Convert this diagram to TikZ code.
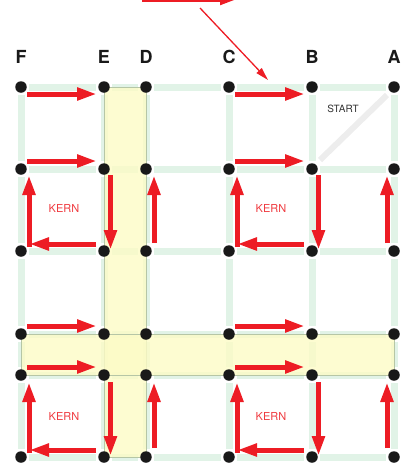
\documentclass[tikz,border=0pt]{standalone}
\usepackage{fontspec}
\setmainfont{TeX Gyre Heros}
\usetikzlibrary{arrows.meta}
\definecolor{arrred}{HTML}{ED1C24}
\definecolor{kernred}{HTML}{EF3B40}
\definecolor{gridgreen}{HTML}{E1F3E7}
\definecolor{hlyellow}{HTML}{FCFBC6}
\definecolor{hlborder}{HTML}{B6C6A6}
\definecolor{bandgray}{HTML}{EDEDED}
\begin{document}
\begin{tikzpicture}[x=1pt,y=-1pt,
  gridline/.style={draw=gridgreen, line width=7pt, shorten >=8pt, shorten <=8pt},
  dot/.style={circle, fill=black!90, inner sep=0pt, minimum size=11.5pt},
  redarrow/.style={draw=arrred, line width=5pt, -{Triangle[length=20pt,width=12pt]}},
  strip/.style={fill=hlyellow, fill opacity=0.8, draw=hlborder, line width=0.8pt},
  collabel/.style={font=\bfseries\fontsize{18}{18}\selectfont, text=black!90},
  kern/.style={font=\fontsize{11}{11}\selectfont, text=kernred},
  startlbl/.style={font=\fontsize{10}{10}\selectfont, text=black!80}]
\useasboundingbox (0,0) rectangle (409,464);
% grid coordinates
\foreach \c/\x in {F/21,E/104,D/146,C/229,B/312,A/394}
  \foreach \r/\y in {1/87,2/169,3/251,4/334,5/375,6/457}
    \coordinate (\c\r) at (\x,\y);
% green grid segments
\foreach \r in {1,...,6}
  \foreach \a/\b in {F/E,E/D,D/C,C/B,B/A}
    \draw[gridline] (\a\r) -- (\b\r);
\foreach \c in {F,E,D,C,B,A}
  \foreach \a/\b in {1/2,2/3,3/4,4/5,5/6}
    \draw[gridline] (\c\a) -- (\c\b);
% start band
\coordinate (bandA) at (387,95);
\coordinate (bandB) at (320,160);
\draw[draw=bandgray, line width=6pt] (bandA) -- (bandB);
\node[startlbl] (start) at (343,109) {START};
% highlight strips
\path[strip] (E1) rectangle (D6);
\path[strip] (F4) rectangle (A5);
% dots
\foreach \c in {F,E,D,C,B,A}
  \foreach \r in {1,...,6}
    \node[dot] (d\c\r) at (\c\r) {};
% column labels
\foreach \c in {F,E,D,C,B,A}
  \node[collabel] (l\c) at ([yshift=30pt]\c1) {\c};
% horizontal arrows
\foreach \l/\rr in {F/E,C/B}{
  \draw[redarrow] ([shift={(6,7)}]d\l1.center) -- ([shift={(-7,7)}]d\rr1.center);
  \draw[redarrow] ([shift={(6,-8)}]d\l2.center) -- ([shift={(-7,-8)}]d\rr2.center);
  \draw[redarrow] ([shift={(6,-8)}]d\l4.center) -- ([shift={(-7,-8)}]d\rr4.center);
  \draw[redarrow] ([shift={(6,-8)}]d\l5.center) -- ([shift={(-7,-8)}]d\rr5.center);
  % L shapes
  \draw[redarrow] ([shift={(-8,-7)}]d\rr3.center) -- ([shift={(8,-7)}]d\l3.center);
  \draw[redarrow] ([shift={(8,-4.5)}]d\l3.center) -- ([shift={(8,6)}]d\l2.center);
  \draw[redarrow] ([shift={(-8,-7)}]d\rr6.center) -- ([shift={(8,-7)}]d\l6.center);
  \draw[redarrow] ([shift={(8,-4.5)}]d\l6.center) -- ([shift={(8,7)}]d\l5.center);
  % down arrows
  \draw[redarrow] ([shift={(6.5,6)}]d\rr2.center) -- ([shift={(6.5,-1)}]d\rr3.center);
  \draw[redarrow] ([shift={(6.5,7)}]d\rr5.center) -- ([shift={(6.5,-1)}]d\rr6.center);
}
% up arrows
\draw[redarrow] ([shift={(8,-8)}]dD3.center) -- ([shift={(8,6)}]dD2.center);
\draw[redarrow] ([shift={(8,-9)}]dD6.center) -- ([shift={(8,7)}]dD5.center);
\draw[redarrow] ([shift={(-7,-8)}]dA3.center) -- ([shift={(-7,6)}]dA2.center);
\draw[redarrow] ([shift={(-7,-9)}]dA6.center) -- ([shift={(-7,7)}]dA5.center);
% KERN labels
\node[kern] (k1) at (64,208) {KERN};
\node[kern] (k2) at (271,208) {KERN};
\node[kern] (k3) at (64,416) {KERN};
\node[kern] (k4) at (271,416) {KERN};
% top arrows
\coordinate (topL) at (142,-1);
\coordinate (topR) at (238,-1);
\draw[draw=arrred, line width=5pt, -{Triangle[length=18pt,width=11pt]}] (topL) -- (topR);
\coordinate (diagS) at (200,8);
\coordinate (diagE) at (268,80);
\draw[draw=arrred, line width=1.3pt, -{Triangle[length=13pt,width=7pt]}] (diagS) -- (diagE);
\end{tikzpicture}
\end{document}
